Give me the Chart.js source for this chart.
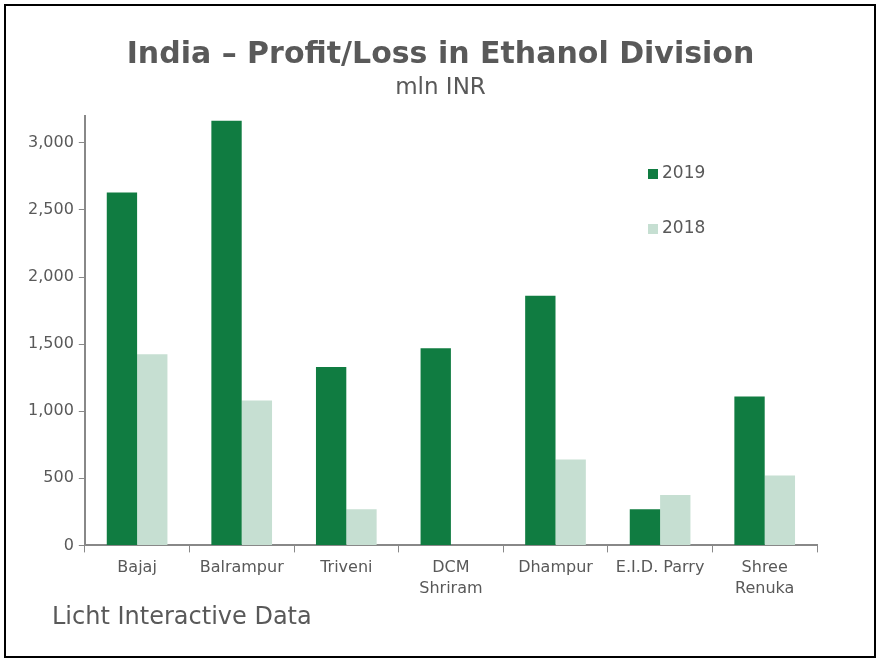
<!DOCTYPE html>
<html>
<head>
<meta charset="utf-8">
<script src="https://cdn.jsdelivr.net/npm/chart.js@4.4.0/dist/chart.umd.min.js"></script>
<style>
  html, body { margin: 0; padding: 0; background: #fff; }
  #wrap { position: relative; width: 881px; height: 663px; font-family: "DejaVu Sans", Verdana, sans-serif; color: #595959; }
  #frame { position: absolute; left: 4px; top: 4px; width: 872px; height: 654px; box-sizing: border-box; border: 2px solid #000; pointer-events: none; }
  #title { position: absolute; left: 0; top: 35px; width: 881px; text-align: center; font-size: 30px; font-weight: bold; line-height: 36px; }
  #subtitle { position: absolute; left: 0; top: 72px; width: 881px; text-align: center; font-size: 23px; line-height: 28px; }
  #source { position: absolute; left: 52px; top: 601px; font-size: 24px; line-height: 30px; }
</style>
</head>
<body>
<div id="wrap">
  <canvas id="chart" width="881" height="663"></canvas>
  <div id="title">India – Profit/Loss in Ethanol Division</div>
  <div id="subtitle">mln INR</div>
  <div id="frame"></div>
  <div id="source">Licht Interactive Data</div>
</div>
<script>
// Profit/loss of ethanol division, mln INR
const companies = ['Bajaj', 'Balrampur', 'Triveni', ['DCM', 'Shriram'], 'Dhampur', 'E.I.D. Parry', ['Shree', 'Renuka']];
const profit2019 = [2630, 3165, 1330, 1470, 1860, 270, 1110];
const profit2018 = [1425, 1080, 270, 0, 640, 375, 520];
const yTicks = [0, 500, 1000, 1500, 2000, 2500, 3000];

const textColor = '#595959';
const font = '"DejaVu Sans", Verdana, sans-serif';

// legend drawn inside the plot, like the original
const floatLegend = {
    id: 'floatLegend',
    afterDraw(chart) {
        const ctx = chart.ctx;
        const x = 648, ys = [174, 229];
        ctx.save();
        ctx.font = '17px ' + font;
        ctx.textBaseline = 'middle';
        chart.data.datasets.forEach((ds, i) => {
            ctx.fillStyle = ds.backgroundColor;
            ctx.fillRect(x, ys[i] - 5, 10, 10);
            ctx.fillStyle = textColor;
            ctx.fillText(ds.label, x + 14, ys[i]);
        });
        ctx.restore();
    }
};

new Chart(document.getElementById('chart').getContext('2d'), {
    type: 'bar',
    data: {
        labels: companies,
        datasets: [
            { label: '2019', data: profit2019, backgroundColor: '#107c41' },
            { label: '2018', data: profit2018, backgroundColor: '#c6dfd2' }
        ]
    },
    options: {
        responsive: false,
        animation: false,
        layout: { padding: { top: 116, left: 23, right: 64, bottom: 59 } },
        datasets: { bar: { categoryPercentage: 0.58, barPercentage: 1.0 } },
        plugins: {
            legend: { display: false },
            tooltip: { enabled: false }
        },
        scales: {
            x: {
                grid: { offset: true, drawOnChartArea: false, tickLength: 7, color: '#888' },
                border: { color: '#888', width: 2 },
                ticks: { color: textColor, font: { family: font, size: 16, lineHeight: 1.3 }, padding: 5, maxRotation: 0, autoSkip: false }
            },
            y: {
                min: 0,
                max: 3200,
                afterBuildTicks(axis) { axis.ticks = yTicks.map(v => ({ value: v })); },
                grid: { drawOnChartArea: false, tickLength: 6, color: '#888' },
                border: { color: '#888', width: 2 },
                ticks: {
                    color: textColor,
                    font: { family: font, size: 16 },
                    padding: 5,
                    callback: v => v.toLocaleString('en-US')
                }
            }
        }
    },
    plugins: [floatLegend]
});
</script>
</body>
</html>
